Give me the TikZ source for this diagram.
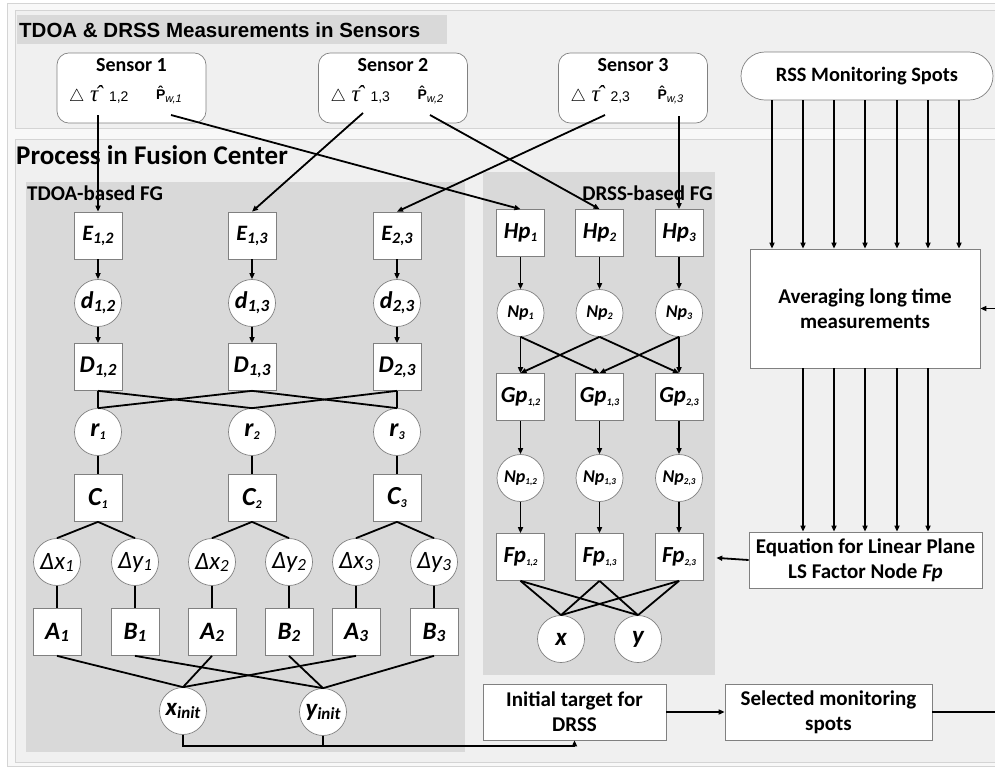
\documentclass[tikz,border=0pt]{standalone}
\usepackage{fontspec}
\setmainfont{Carlito}
\newfontfamily\arialfont{Liberation Sans}
\newfontfamily\timesfont{Liberation Serif}
\usetikzlibrary{arrows.meta,calc}

\definecolor{pagebg}{HTML}{F8F8F8}
\definecolor{panelbg}{HTML}{F0F0F0}
\definecolor{panelrule}{HTML}{D4D4D4}
\definecolor{fgbg}{HTML}{D9D9D9}
\definecolor{nodeline}{HTML}{808080}

% label with a lowered subscript: main size, main text, sub size, sub text, drop (pt)
\newcommand\slab[5]{{\fontsize{#1}{#1}\selectfont #2}\raisebox{-#5pt}{\fontsize{#3}{#3}\selectfont #4}}
% measurement row of a sensor: TDOA estimate and received power
\newcommand\measrow[2]{\makebox[149pt][l]{\hspace{12pt}%
  \makebox[21pt][l]{\fontsize{16}{16}\selectfont$\triangle$}%
  \makebox[19pt][l]{\timesfont\itshape\fontsize{23}{23}\selectfont ^^^^03c4\kern-3pt ^^^^02c6}%
  \makebox[47pt][l]{\arialfont\fontsize{14}{14}\selectfont #1}%
  \raisebox{2pt}{\arialfont\bfseries\fontsize{14}{14}\selectfont\^{P}}%
  \raisebox{-1pt}{\arialfont\itshape\fontsize{11}{11}\selectfont w,#2}}}
% sensor contents: title row and measurement row, 70pt tall in all
\newcommand\sensortext[3]{{\renewcommand\arraystretch{0}%
  \begin{tabular}{@{}c@{}}
  \rule{0pt}{19pt}{\bfseries\fontsize{20}{20}\selectfont Sensor #1}\\
  \rule[-22pt]{0pt}{51pt}\measrow{#2}{#3}
  \end{tabular}}}
% coordinate increment label
\newcommand\dlab[2]{{\fontsize{25}{25}\selectfont\char"2206 #1}\raisebox{-2pt}{\fontsize{17}{17}\selectfont #2}}

\begin{document}
\begin{tikzpicture}[x=1pt,y=-1pt,
  fac/.style={draw=nodeline,fill=white,line width=0.7pt,minimum width=48pt,minimum height=47pt,inner sep=0pt,font=\bfseries\itshape},
  var/.style={draw=nodeline,fill=white,line width=0.7pt,circle,minimum size=47pt,inner sep=0pt,font=\bfseries\itshape},
  dvar/.style={var,font=\itshape},
  infobox/.style={draw=nodeline,fill=white,line width=0.7pt,inner sep=0pt,align=center,font=\bfseries\fontsize{21}{25}\selectfont},
  sensorbox/.style={draw=nodeline,fill=white,line width=0.7pt,rounded corners=12pt,minimum width=149pt,minimum height=70pt,inner sep=0pt},
  link/.style={line width=1.8pt},
  arr/.style={link,-{Triangle[length=6pt,width=5pt]}},
]
\useasboundingbox (0,0) rectangle (995,769);

% ---- panels ----
\fill[white] (0,0) rectangle (995,769);
\draw[panelrule,fill=pagebg] (7,3) rectangle (1002,766);
\draw[panelrule,fill=panelbg] (15,10) rectangle (1002,128);
\draw[panelrule,fill=panelbg] (15,139) rectangle (1002,762);
\fill[fgbg] (17,15) rectangle (447,44);
\node[anchor=west,inner sep=0pt,font=\arialfont\bfseries\fontsize{20.5}{24}\selectfont] (ttl) at (19,30) {TDOA \& DRSS Measurements in Sensors};
\node[anchor=west,inner sep=0pt,font=\bfseries\fontsize{27}{30}\selectfont] (proc) at (16,155) {Process in Fusion Center};
\fill[fgbg] (26,182) rectangle (465,752);
\fill[fgbg] (483,172) rectangle (715,675);
\node[anchor=west,inner sep=0pt,font=\bfseries\fontsize{21}{24}\selectfont] (tfg) at (27,193) {TDOA-based FG};
\node[anchor=east,inner sep=0pt,font=\bfseries\fontsize{21}{24}\selectfont] (dfg) at (713,193) {DRSS-based FG};

% ---- sensors ----
\node[sensorbox] (sen1) at (131.5,88) {\sensortext{1}{1,2}{1}};
\node[sensorbox] (sen2) at (393,88) {\sensortext{2}{1,3}{2}};
\node[sensorbox] (sen3) at (633,88) {\sensortext{3}{2,3}{3}};
\coordinate (t1) at (98,115);
\coordinate (t2) at (363,113);
\coordinate (t3) at (605,115);
\coordinate (p1) at (171,115);
\coordinate (p2) at (430,115);
\coordinate (p3) at (679,116);

% ---- TDOA-based factor graph ----
\foreach \i/\x/\s in {1/98/{1,2},2/252/{1,3},3/397/{2,3}}{
  \node[fac] (E\i) at (\x,235.5) {\slab{22}{E}{16}{\s}{3}};
  \node[var] (d\i) at (\x,303) {\slab{24}{d}{17}{\s}{3}};
  \node[fac] (D\i) at (\x,367) {\slab{24}{D}{17}{\s}{3}};
  \node[var] (r\i) at (\x,432) {\slab{26}{r}{12}{\i}{3}};
  \node[fac] (C\i) at (\x,498) {\slab{26}{C}{12}{\i}{3}};
}
\foreach \i/\xa/\xb in {1/57/135,2/212/289,3/356/434}{
  \node[dvar] (dx\i) at (\xa,562) {\dlab{x}{\i}};
  \node[dvar] (dy\i) at (\xb,562) {\dlab{y}{\i}};
  \node[fac] (A\i) at (\xa,632) {\slab{25}{A}{17}{\i}{2}};
  \node[fac] (B\i) at (\xb,632) {\slab{25}{B}{17}{\i}{2}};
}
\node[var] (xi) at (183,711) {\slab{25}{x}{17}{init}{3}};
\node[var] (yi) at (323,712) {\slab{25}{y}{17}{init}{3}};

\draw[arr] (t1) -- (E1.north);
\draw[arr] (t2) -- (E2.north);
\draw[arr] (t3) -- (E3.north);
\foreach \i in {1,2,3}{
  \draw[arr] (E\i) -- (d\i);
  \draw[arr] (d\i) -- (D\i);
  \draw[link] (r\i) -- (C\i);
  \draw[link] (C\i.south) -- (dx\i.north);
  \draw[link] (C\i.south) -- (dy\i.north);
  \draw[link] (dx\i) -- (A\i);
  \draw[link] (dy\i) -- (B\i);
  \draw[link] (A\i.south) -- (xi.north);
  \draw[link] (B\i.south) -- (yi.north);
}
\draw[link] (D1.south) -- (r1.north);
\draw[link] (D1.south) -- (r2.north);
\draw[link] (D2.south) -- (r1.north);
\draw[link] (D2.south) -- (r3.north);
\draw[link] (D3.south) -- (r2.north);
\draw[link] (D3.south) -- (r3.north);

% ---- DRSS-based factor graph ----
\foreach \i/\x/\s in {1/520.5/{1,2},2/599.5/{1,3},3/679/{2,3}}{
  \node[fac] (H\i) at (\x,233) {\slab{23}{Hp}{13}{\i}{3}};
  \node[var] (N\i) at (\x,313) {\slab{18}{Np}{10}{\i}{2}};
  \node[fac] (G\i) at (\x,397) {\slab{23}{Gp}{10}{\s}{3}};
  \node[var] (M\i) at (\x,478) {\slab{18}{Np}{9}{\s}{2}};
  \node[fac] (F\i) at (\x,557) {\slab{23}{Fp}{9}{\s}{3}};
}
\node[var] (xo) at (561,639) {\fontsize{25}{25}\selectfont x};
\node[var] (yo) at (638,639) {\fontsize{25}{25}\selectfont y};

\draw[arr] (p1) -- (H1.north);
\draw[arr] (p2) -- (H2.north);
\draw[arr] (p3) -- (H3.north);
\foreach \i in {1,2,3}{
  \draw[arr] (H\i) -- (N\i);
  \draw[arr] (G\i) -- (M\i);
  \draw[arr] (M\i) -- (F\i);
  \draw[link] (F\i.south) -- (xo.north);
  \draw[link] (F\i.south) -- (yo.north);
}
\draw[arr] (N1.south) -- (G1.north);
\draw[arr] (N1.south) -- (G2.north);
\draw[arr] (N2.south) -- (G1.north);
\draw[arr] (N2.south) -- (G3.north);
\draw[arr] (N3.south) -- (G2.north);
\draw[arr] (N3.south) -- (G3.north);

% ---- monitoring spots and linear plane ----
\node[draw=nodeline,fill=white,line width=0.7pt,rounded corners=24pt,minimum width=252pt,minimum height=48pt,inner sep=0pt,font=\bfseries\fontsize{20.4}{24}\selectfont] (rss) at (867,76) {RSS Monitoring Spots};
\node[infobox,minimum width=230pt,minimum height=119pt] (avg) at (865,308.5) {Averaging long time\\measurements};
\node[infobox,minimum width=233pt,minimum height=56pt] (eq) at (865.5,560) {Equation for Linear Plane\\LS Factor Node \textit{Fp}};
\node[infobox,minimum width=183pt,minimum height=56pt] (init) at (574.5,712) {Initial target for\\DRSS};
\node[infobox,minimum width=207pt,minimum height=56pt] (sel) at (828.5,712) {Selected monitoring\\spots};

\foreach \x in {772,803,834,865,897,928,959}
  \draw[arr] (\x,0 |- rss.south) -- (\x,0 |- avg.north);
\foreach \x in {803,834,865,897,928}
  \draw[arr] (\x,0 |- avg.south) -- (\x,0 |- eq.north);
\draw[arr,shorten >=13pt] (eq.west) -- (F3.east);
\coordinate (feedin) at (995,308.5);
\draw[arr] (feedin) -- (avg.east);

\draw[arr] (xi.south) |- ($(init.south)+(0,6)$) -- (init.south);
\draw[link] (yi.south) -- ++(0,11);
\draw[arr] (init) -- (sel);
\coordinate (feedout) at (995,712);
\draw[link] (sel) -- (feedout);
\end{tikzpicture}
\end{document}
